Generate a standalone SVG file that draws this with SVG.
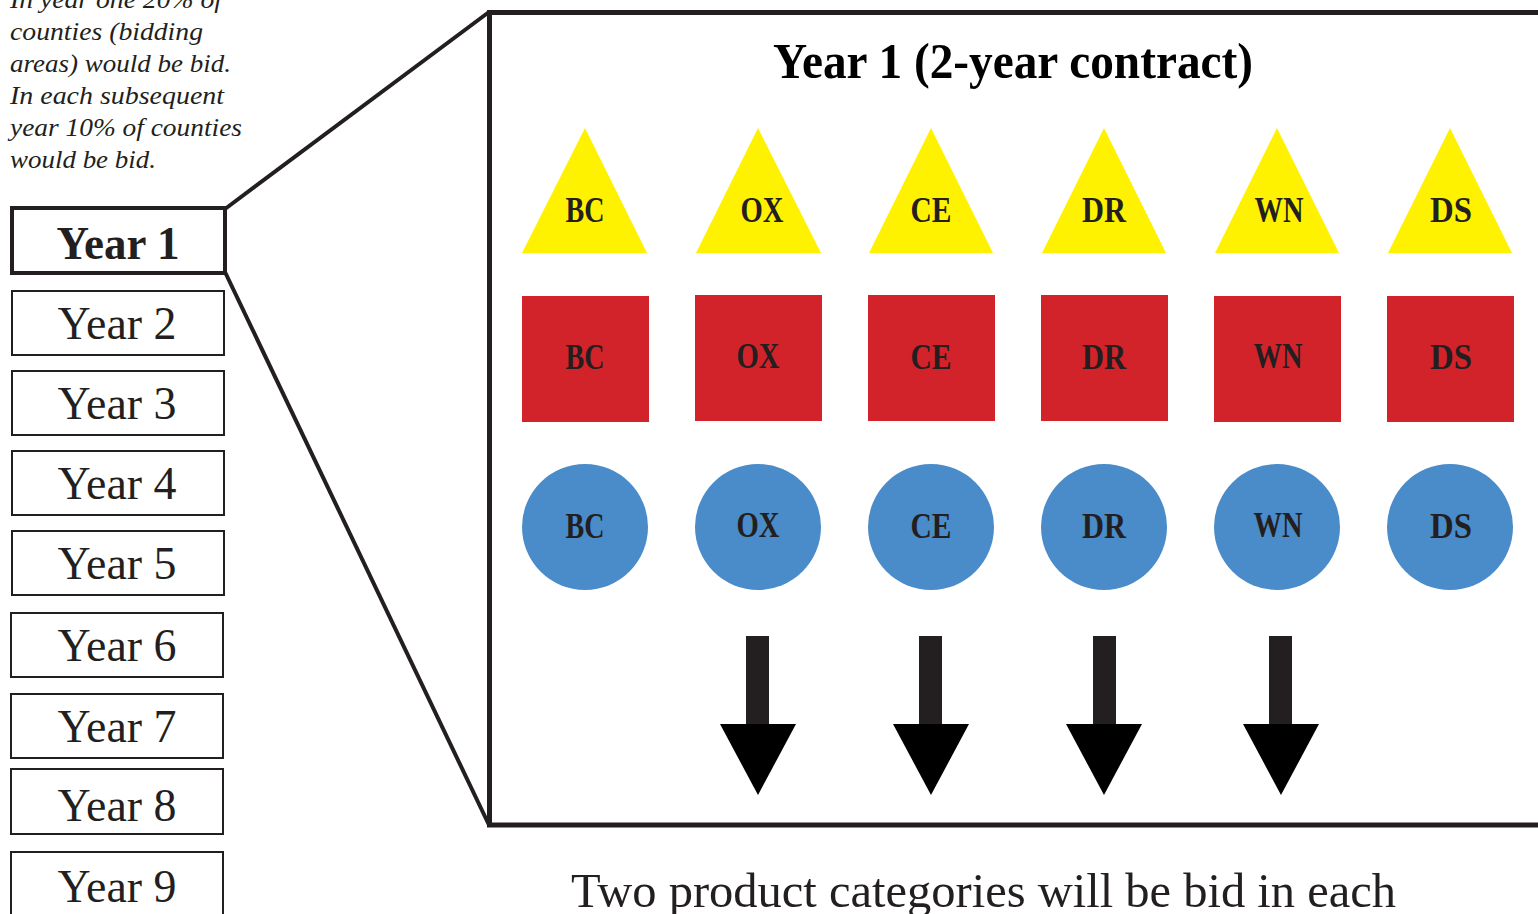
<svg xmlns="http://www.w3.org/2000/svg" width="1538" height="914" viewBox="0 0 1538 914">
<style>
.yb{fill:#fff;stroke:#231f20;stroke-width:2}
.yt{font-family:"Liberation Serif",serif;font-size:47px;fill:#231f20;text-anchor:middle}
.note{font-family:"Liberation Serif",serif;font-style:italic;font-size:26px;fill:#231f20}
.lab{font-family:"Liberation Serif",serif;font-weight:bold;font-size:35px;fill:#231f20;text-anchor:middle}
.tri{fill:#fff200}
.sq{fill:#d2232a}
.ci{fill:#4a8bc9}
.shaft{fill:#231f20}
.head{fill:#000}
</style>
<rect width="1538" height="914" fill="#fff"/>
<g id="note">
<text class="note" x="10" y="8" textLength="212" lengthAdjust="spacingAndGlyphs">In year one 20% of</text>
<text class="note" x="10" y="40" textLength="193" lengthAdjust="spacingAndGlyphs">counties (bidding</text>
<text class="note" x="10" y="72" textLength="221" lengthAdjust="spacingAndGlyphs">areas) would be bid.</text>
<text class="note" x="10" y="104" textLength="214" lengthAdjust="spacingAndGlyphs">In each subsequent</text>
<text class="note" x="10" y="136" textLength="232" lengthAdjust="spacingAndGlyphs">year 10% of counties</text>
<text class="note" x="10" y="168" textLength="146" lengthAdjust="spacingAndGlyphs">would be bid.</text>
</g>
<g id="connectors" stroke="#231f20" stroke-width="4" fill="none">
<line x1="225" y1="209" x2="489" y2="12"/>
<line x1="225" y1="272" x2="489" y2="825"/>
</g>
<g id="panel">
<path d="M1540 12.5 H489.5 V825 H1540" fill="none" stroke="#231f20" stroke-width="5"/>
<text x="1013" y="78" font-family="Liberation Serif,serif" font-weight="bold" font-size="50" fill="#000" text-anchor="middle" textLength="480" lengthAdjust="spacingAndGlyphs">Year 1 (2-year contract)</text>
</g>
<g id="year1"><rect x="12" y="208" width="213" height="65" fill="#fff" stroke="#231f20" stroke-width="4"/><text class="yt" x="118" y="259" font-weight="bold" textLength="123" lengthAdjust="spacingAndGlyphs">Year 1</text></g>
<g id="year2"><rect class="yb" x="12" y="291" width="212" height="64"/><text class="yt" x="117" y="339" textLength="119" lengthAdjust="spacingAndGlyphs">Year 2</text></g>
<g id="year3"><rect class="yb" x="12" y="371" width="212" height="64"/><text class="yt" x="117" y="419" textLength="119" lengthAdjust="spacingAndGlyphs">Year 3</text></g>
<g id="year4"><rect class="yb" x="12" y="451" width="212" height="64"/><text class="yt" x="117" y="499" textLength="119" lengthAdjust="spacingAndGlyphs">Year 4</text></g>
<g id="year5"><rect class="yb" x="12" y="531" width="212" height="64"/><text class="yt" x="117" y="579" textLength="119" lengthAdjust="spacingAndGlyphs">Year 5</text></g>
<g id="year6"><rect class="yb" x="11" y="613" width="212" height="64"/><text class="yt" x="117" y="661" textLength="119" lengthAdjust="spacingAndGlyphs">Year 6</text></g>
<g id="year7"><rect class="yb" x="11" y="694" width="212" height="64"/><text class="yt" x="117" y="742" textLength="119" lengthAdjust="spacingAndGlyphs">Year 7</text></g>
<g id="year8"><rect class="yb" x="11" y="769" width="212" height="65"/><text class="yt" x="117" y="821" textLength="119" lengthAdjust="spacingAndGlyphs">Year 8</text></g>
<g id="year9"><rect class="yb" x="11" y="852" width="212" height="70"/><text class="yt" x="117" y="902" textLength="119" lengthAdjust="spacingAndGlyphs">Year 9</text></g>

<g id="tri-BC"><polygon class="tri" points="585,128 647,253 522,253"/><text class="lab" x="585" y="222" textLength="39" lengthAdjust="spacingAndGlyphs">BC</text></g>
<g id="tri-OX"><polygon class="tri" points="758,128 821,253 696,253"/><text class="lab" x="762" y="222" textLength="43" lengthAdjust="spacingAndGlyphs">OX</text></g>
<g id="tri-CE"><polygon class="tri" points="931,128 993,253 869,253"/><text class="lab" x="931" y="222" textLength="41" lengthAdjust="spacingAndGlyphs">CE</text></g>
<g id="tri-DR"><polygon class="tri" points="1104,128 1166,253 1042,253"/><text class="lab" x="1104" y="222" textLength="44" lengthAdjust="spacingAndGlyphs">DR</text></g>
<g id="tri-WN"><polygon class="tri" points="1277,128 1339,253 1215,253"/><text class="lab" x="1279" y="222" textLength="49" lengthAdjust="spacingAndGlyphs">WN</text></g>
<g id="tri-DS"><polygon class="tri" points="1450,128 1512,253 1388,253"/><text class="lab" x="1451" y="222" textLength="42" lengthAdjust="spacingAndGlyphs">DS</text></g>

<g id="sq-BC"><rect class="sq" x="522" y="296" width="127" height="126"/><text class="lab" x="585" y="369" textLength="39" lengthAdjust="spacingAndGlyphs">BC</text></g>
<g id="sq-OX"><rect class="sq" x="695" y="295" width="127" height="126"/><text class="lab" x="758" y="368" textLength="43" lengthAdjust="spacingAndGlyphs">OX</text></g>
<g id="sq-CE"><rect class="sq" x="868" y="295" width="127" height="126"/><text class="lab" x="931" y="369" textLength="41" lengthAdjust="spacingAndGlyphs">CE</text></g>
<g id="sq-DR"><rect class="sq" x="1041" y="295" width="127" height="126"/><text class="lab" x="1104" y="369" textLength="44" lengthAdjust="spacingAndGlyphs">DR</text></g>
<g id="sq-WN"><rect class="sq" x="1214" y="296" width="127" height="126"/><text class="lab" x="1278" y="368" textLength="49" lengthAdjust="spacingAndGlyphs">WN</text></g>
<g id="sq-DS"><rect class="sq" x="1387" y="296" width="127" height="126"/><text class="lab" x="1451" y="369" textLength="42" lengthAdjust="spacingAndGlyphs">DS</text></g>

<g id="ci-BC"><circle class="ci" cx="585" cy="527" r="63"/><text class="lab" x="585" y="538" textLength="39" lengthAdjust="spacingAndGlyphs">BC</text></g>
<g id="ci-OX"><circle class="ci" cx="758" cy="527" r="63"/><text class="lab" x="758" y="537" textLength="43" lengthAdjust="spacingAndGlyphs">OX</text></g>
<g id="ci-CE"><circle class="ci" cx="931" cy="527" r="63"/><text class="lab" x="931" y="538" textLength="41" lengthAdjust="spacingAndGlyphs">CE</text></g>
<g id="ci-DR"><circle class="ci" cx="1104" cy="527" r="63"/><text class="lab" x="1104" y="538" textLength="44" lengthAdjust="spacingAndGlyphs">DR</text></g>
<g id="ci-WN"><circle class="ci" cx="1277" cy="527" r="63"/><text class="lab" x="1278" y="537" textLength="49" lengthAdjust="spacingAndGlyphs">WN</text></g>
<g id="ci-DS"><circle class="ci" cx="1450" cy="527" r="63"/><text class="lab" x="1451" y="538" textLength="42" lengthAdjust="spacingAndGlyphs">DS</text></g>

<g id="arrows">
<rect class="shaft" x="746" y="636" width="23" height="89"/><polygon class="head" points="720,724 796,724 758,795"/>
<rect class="shaft" x="919" y="636" width="23" height="89"/><polygon class="head" points="893,724 969,724 931,795"/>
<rect class="shaft" x="1093" y="636" width="23" height="89"/><polygon class="head" points="1066,724 1142,724 1104,795"/>
<rect class="shaft" x="1269" y="636" width="23" height="89"/><polygon class="head" points="1243,724 1319,724 1281,795"/>
</g>
<g id="caption">
<text x="571" y="907" font-family="Liberation Serif,serif" font-size="49" fill="#231f20" textLength="825" lengthAdjust="spacingAndGlyphs">Two product categories will be bid in each</text>
</g>
</svg>
